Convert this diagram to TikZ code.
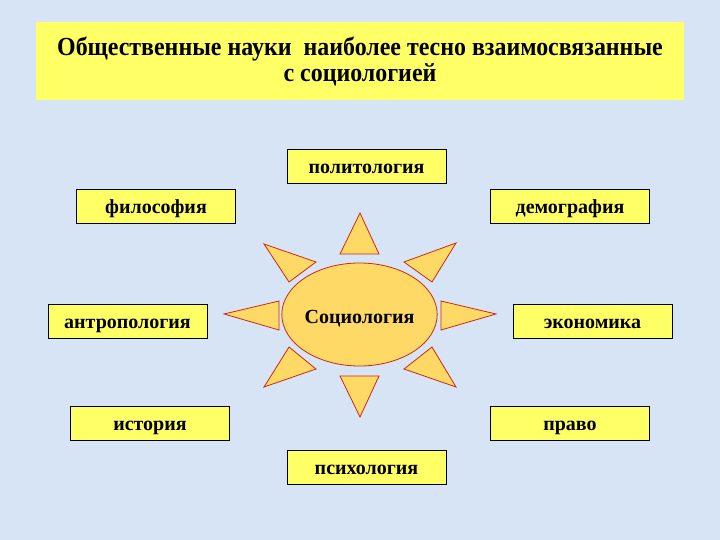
\documentclass[tikz,border=0pt]{standalone}
\usepackage{fontspec}
\setmainfont{Liberation Serif}
\newfontfamily\titlefont[FakeStretch=0.92]{Liberation Serif}
\usetikzlibrary{shapes.geometric}
\definecolor{bg}{RGB}{214,228,245}
\definecolor{boxy}{RGB}{255,255,102}
\definecolor{suny}{RGB}{255,217,102}
\definecolor{sunr}{RGB}{204,40,20}
\begin{document}
\begin{tikzpicture}[x=1pt,y=-1pt,
  sci/.style={draw=black, line width=1pt, fill=boxy, minimum width=159pt, minimum height=34pt, inner sep=0pt, text height=14pt, text depth=0pt, font=\bfseries\fontsize{20}{20}\selectfont},
  ttl/.style={anchor=base, inner sep=0pt, font=\titlefont\bfseries\fontsize{26}{26}\selectfont},
  ray/.style={fill=suny, draw=sunr, line width=0.8pt, line join=miter}]
\fill[bg] (0,0) rectangle (720,540);
\useasboundingbox (0,0) rectangle (720,540);
\node[fill=boxy, minimum width=648pt, minimum height=78pt, inner sep=0pt] (title) at (360,61) {};
\node[ttl] (title1) at (360,56) {Общественные науки\ \ наиболее тесно взаимосвязанные};
\node[ttl] (title2) at (360,82) {с социологией};
\node[sci] (pol) at (366.5,167) {политология};
\node[sci] (fil) at (156,207) {философия};
\node[sci] (dem) at (570,207) {демография};
\node[sci] (ant) at (127.5,321) {антропология};
\node[sci] (eco) at (592.5,321) {экономика};
\node[sci] (ist) at (150,423.5) {история};
\node[sci] (pra) at (570,423.5) {право};
\node[sci] (psy) at (366.5,467.5) {психология};
\draw[ray] (360,213) -- (379,254) -- (340,254) -- cycle;
\draw[ray] (360,417) -- (379,376) -- (340,376) -- cycle;
\draw[ray] (224,314) -- (279,301) -- (279,330) -- cycle;
\draw[ray] (496,314) -- (441,301) -- (441,330) -- cycle;
\draw[ray] (264,244) -- (316,262) -- (289,282) -- cycle;
\draw[ray] (456,243) -- (404,262) -- (432,282) -- cycle;
\draw[ray] (264,387) -- (289,347) -- (316,369) -- cycle;
\draw[ray] (456,387) -- (432,347) -- (404,369) -- cycle;
\node[ellipse, fill=suny, draw=sunr, line width=0.8pt, minimum width=137pt, minimum height=103pt, inner sep=0pt, text height=17pt, text depth=0pt, font=\bfseries\fontsize{20}{20}\selectfont] (soc) at (359.5,314.5) {Социология};
\end{tikzpicture}
\end{document}
